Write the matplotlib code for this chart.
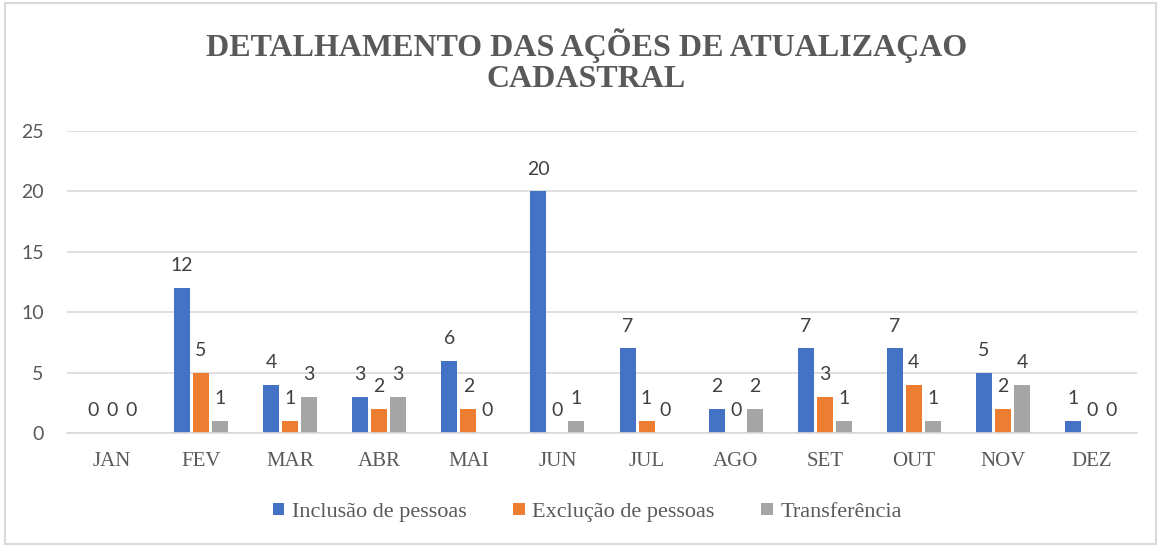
import numpy as np
import matplotlib.pyplot as plt
from matplotlib.patches import Rectangle

meses = ['JAN', 'FEV', 'MAR', 'ABR', 'MAI', 'JUN', 'JUL', 'AGO', 'SET', 'OUT', 'NOV', 'DEZ']
inclusao = [0, 12, 4, 3, 6, 20, 7, 2, 7, 7, 5, 1]
exclusao = [0, 5, 1, 2, 2, 0, 1, 0, 3, 4, 2, 0]
transferencia = [0, 1, 3, 3, 0, 1, 0, 2, 1, 1, 4, 0]
series = [('Inclusão de pessoas', inclusao, '#4472C4'),
          ('Exclução de pessoas', exclusao, '#ED7D31'),
          ('Transferência', transferencia, '#A5A5A5')]

serif = 'Liberation Serif'
sans = 'Lato'
txt = '#595959'

fig = plt.figure(figsize=(11.61, 5.46), dpi=100)
ax = fig.add_axes([0.058, 0.207, 0.921, 0.553])

x = np.arange(len(meses))
step = 0.213
width = 0.18
for i, (nome, vals, cor) in enumerate(series):
    pos = x + (i - 1) * step
    bars = ax.bar(pos, vals, width, color=cor, label=nome, zorder=2)
    for xp, v in zip(pos, vals):
        ax.annotate(str(v), (xp, v), xytext=(0, 10), textcoords='offset points',
                    ha='center', va='bottom', fontsize=14, family=sans, color='#404040')

ax.set_xlim(-0.5, len(meses) - 0.5)
ax.set_ylim(0, 25)
ax.set_yticks([0, 5, 10, 15, 20, 25])
ax.set_xticks(x)
ax.set_xticklabels(meses, family=serif, fontsize=15, color=txt)
for lab in ax.get_yticklabels():
    lab.set_family(sans)
    lab.set_fontsize(14)
    lab.set_color(txt)
ax.tick_params(axis='y', length=0, pad=17)
ax.tick_params(axis='x', length=0, pad=14)
ax.grid(axis='y', color='#D9D9D9', linewidth=1.2, zorder=0)
ax.set_axisbelow(True)
for s in ['top', 'right', 'left']:
    ax.spines[s].set_visible(False)
ax.spines['bottom'].set_color('#D9D9D9')
ax.spines['bottom'].set_linewidth(1.2)

fig.text(0.505, 0.888, 'DETALHAMENTO DAS AÇÕES DE ATUALIZAÇAO\nCADASTRAL', ha='center', va='center',
         family=serif, fontsize=23, fontweight='bold', color=txt, linespacing=1.12)

leg = fig.legend(loc='center', bbox_to_anchor=(0.506, 0.062), ncol=3, frameon=False,
                 prop={'family': serif, 'size': 16}, handlelength=0.5, handleheight=0.5,
                 handletextpad=0.35, columnspacing=2.1)
for t in leg.get_texts():
    t.set_color(txt)

fig.patches.append(Rectangle((0.004, 0.004), 0.992, 0.99, transform=fig.transFigure,
                             fill=False, edgecolor='#D9D9D9', linewidth=1.5))

fig.savefig('out.png', dpi=100)
